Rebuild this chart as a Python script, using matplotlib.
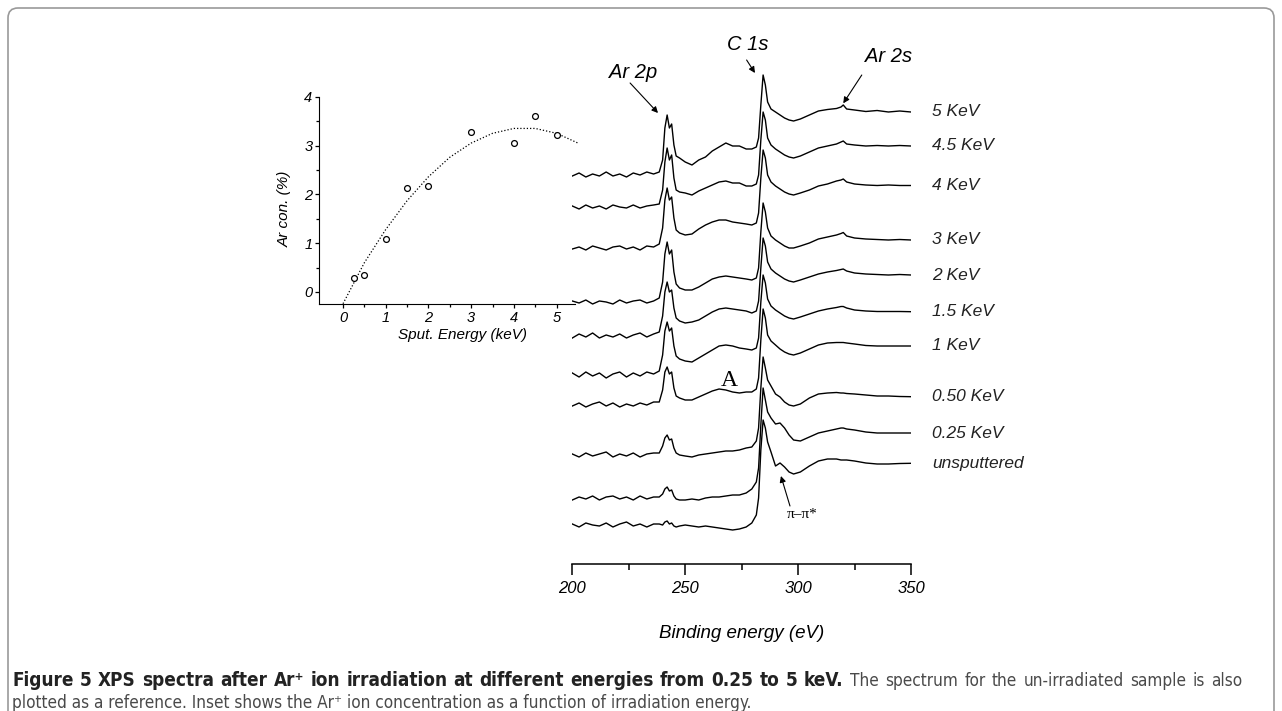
import matplotlib
matplotlib.use("Agg")
import numpy as np
import matplotlib.pyplot as plt
from matplotlib import font_manager
from matplotlib.patches import FancyBboxPatch
from matplotlib.transforms import IdentityTransform

# ---- data ---------------------------------------------------------------
# binding energy grid (eV) shared by all spectra
energy = [200, 203, 206, 209, 212, 215, 218, 221, 224, 227, 230, 233, 236,
          238.5, 240, 241, 242, 243, 244, 245, 246, 247.5,
          250, 253, 256, 259, 262, 265, 268, 271, 274, 277,
          279.5, 281.5, 282.5, 283.5, 284.5, 285.5, 286.5, 288,
          290, 292, 294, 296, 298, 301, 305, 309, 313, 317,
          319, 320, 321.5, 325, 330, 335, 340, 345, 350]

# intensities (a.u.) relative to each spectrum's low-energy baseline
spec_5 = [-1, 2, -2, 1, -1, 3, -1, 1, -2, 2, 0, 3, 1,
          3, 15, 47, 60, 47, 51, 30, 19, 17,
          13, 10, 15, 18, 24, 28, 32, 29, 29, 26,
          26, 28, 37, 70, 100, 90, 73, 66,
          63, 60, 57, 55, 54, 56, 60, 64, 65.5, 66.5,
          68, 70, 66, 65, 63.5, 64.5, 63, 64, 63]
spec_45 = [1, -2, 2, -1, 1, -2, 2, 0, -1, 2, -1, 1, 2,
           3, 17, 45, 59, 47, 52, 29, 17, 15,
           14, 12, 16, 19, 22, 25, 26, 24, 24, 21,
           21, 23, 32, 67, 95, 87, 69, 62,
           58, 55, 52, 50, 49, 51, 55, 59, 61, 63,
           65, 66, 63, 62, 61, 61.5, 61, 61.5, 61]
spec_4 = [-1, 1, -2, 2, 0, -2, 1, 2, -1, 1, -2, 2, 1,
          4, 20, 48, 60, 48, 51, 30, 18, 15,
          13, 14, 19, 23, 26, 28, 28, 26, 25, 24,
          23, 25, 35, 70, 98, 90, 73, 66,
          62, 59, 56, 54, 53, 55, 58, 62, 64, 67,
          68, 69, 66, 64, 63, 62.5, 63, 62.5, 62.5]
spec_3 = [1, -1, 2, -2, 1, 0, -2, 2, -1, 1, 2, -1, 1,
          4, 20, 48, 60, 48, 52, 30, 18, 14,
          12, 12, 15, 19, 23, 25, 26, 25, 24, 23,
          22, 24, 34, 70, 99, 90, 74, 66,
          62, 59, 56, 54, 54, 56, 59, 63, 65, 67,
          68.5, 69.5, 66, 64, 63, 62.5, 62, 62.5, 62]
spec_2 = [-2, 2, -1, 3, -2, 1, -1, 2, -2, 1, 3, -1, 2,
          4, 20, 44, 54, 44, 46, 28, 18, 15,
          13, 14, 16, 20, 24, 27, 28, 27, 26, 25,
          23, 25, 35, 68, 98, 90, 74, 67,
          63, 60, 57, 55, 54, 56, 59, 62, 64, 65.5,
          66.5, 67, 65, 63, 62, 61.5, 61, 61.5, 61]
spec_15 = [2, -2, 3, -1, 2, -3, 1, 3, -2, 2, -1, 3, 1,
           4, 20, 44, 53, 44, 47, 29, 19, 16,
           14, 13, 17, 21, 25, 29, 30, 29, 27, 26,
           25, 27, 37, 73, 100, 92, 76, 69,
           65, 62, 59, 57, 56, 58, 61, 64, 66, 67.5,
           68.5, 68.5, 67, 65, 64, 63.5, 63.5, 63.5, 63.3]
spec_1 = [-1, 2, -2, 1, 3, -1, 2, -2, 1, -1, 2, 0, 3,
          3, 15, 33, 38, 31, 33, 17, 9, 7,
          5, 5, 8, 11, 14, 16, 15, 13, 12, 13,
          13, 16, 27, 65, 96, 87, 70, 64,
          60, 56, 53, 51, 50, 52, 56, 60, 62, 62.5,
          62.5, 62.5, 62, 61, 59.5, 59, 59, 59, 59]
spec_050 = [1, -2, 2, -1, 1, 3, -2, 1, -1, 2, -2, 1, 2,
            2, 9, 17, 20, 15, 16, 7, 2, 0,
            -1, -2, 0, 1, 2, 3, 4, 4, 5, 7,
            8, 14, 27, 67, 98, 87, 75, 69,
            61, 58, 53, 50, 49, 51, 57, 61, 62, 62.5,
            62, 62, 61.5, 61, 60, 59, 59, 58.5, 58.3]
spec_025 = [-2, 1, -1, 2, -2, 1, 2, -1, 1, -2, 2, -1, 1,
            1, 4, 9, 11, 7, 8, 2, -1, -2,
            -2, -1, -2, 0, 1, 1, 2, 3, 3, 5,
            9, 16, 30, 73, 110, 98, 86, 80,
            74, 75, 70, 63, 58, 57, 61, 65, 67, 69,
            70, 70, 69, 68, 66, 65, 65, 65, 65]
spec_un = [1, -2, 2, 0, -1, 2, -2, 1, 3, -1, 1, -2, 1,
           1, 0, 3, 4, 1, 2, -1, -2, -1,
           0, -1, -2, -1, -2, -3, -4, -5, -4, -2,
           2, 10, 27, 75, 105, 97, 83, 73,
           59, 62, 58, 53, 51, 53, 59, 64, 66, 66,
           65, 65, 65, 64, 62, 61, 61, 61.5, 61.7]

spectra = [spec_5, spec_45, spec_4, spec_3, spec_2, spec_15, spec_1,
           spec_050, spec_025, spec_un]
offsets = [389, 357, 316, 262, 228, 189, 159, 109, 66, 39]
labels = ["5 KeV", "4.5 KeV", "4 KeV", "3 KeV", "2 KeV", "1.5 KeV", "1 KeV",
          "0.50 KeV", "0.25 KeV", "unsputtered"]

# inset: Ar concentration vs sputtering energy
sput_energy = [0.25, 0.5, 1, 1.5, 2, 3, 4, 4.5, 5]
ar_conc = [0.28, 0.35, 1.08, 2.14, 2.18, 3.28, 3.06, 3.60, 3.21]
fit_x = [0, 0.5, 1, 1.5, 2, 2.5, 3, 3.5, 4, 4.5, 5, 5.5]
fit_y = [-0.24, 0.6, 1.28, 1.87, 2.36, 2.76, 3.05, 3.25, 3.35, 3.35, 3.25, 3.05]

# ---- style --------------------------------------------------------------
plt.rcParams["font.family"] = ["Liberation Sans", "DejaVu Sans"]
plt.rcParams["font.style"] = "italic"
names = {f.name for f in font_manager.fontManager.ttflist}
cap_font = "Liberation Sans Narrow" if "Liberation Sans Narrow" in names else "DejaVu Sans"

W, H = 1282, 711
fig = plt.figure(figsize=(W / 100, H / 100), dpi=100)


def px(x0, y0, x1, y1):
    return [x0 / W, 1 - y1 / H, (x1 - x0) / W, (y1 - y0) / H]


# ---- main spectra -------------------------------------------------------
ax = fig.add_axes(px(572.3, 40, 911, 564))
for spec, off, lab in zip(spectra, offsets, labels):
    ax.plot(energy, np.array(spec) + off, color="k", lw=1.0)
    ax.text(359.3, off + spec[-1], lab, fontsize=12.5, va="center", ha="left",
            color="#222222", clip_on=False)

ax.set_xlim(200, 350)
ax.set_ylim(0, 524)
for s in ["left", "right", "top"]:
    ax.spines[s].set_visible(False)
ax.spines["bottom"].set_linewidth(1.1)
ax.set_yticks([])
ax.set_xticks([200, 250, 300, 350])
ax.set_xticks([225, 275, 325], minor=True)
ax.tick_params(axis="x", which="major", direction="out", length=8, width=1.1,
               labelsize=12, pad=4)
ax.tick_params(axis="x", which="minor", direction="out", length=4, width=1.1)
ax.set_xlabel("Binding energy (eV)", fontsize=13.5)
ax.xaxis.label.set_va("center")
ax.xaxis.set_label_coords(0.5, (564 - 634) / 524)
ax.patch.set_alpha(0)

arrow = dict(arrowstyle="-|>", color="k", lw=0.8, mutation_scale=9,
             shrinkA=0, shrinkB=0)
ax.annotate("", xy=(237.95, 451), xytext=(225.6, 481), arrowprops=arrow,
            annotation_clip=False)
ax.text(226.9, 492, "Ar 2p", fontsize=14.5, ha="center", va="center", clip_on=False)
ax.annotate("", xy=(280.9, 491), xytext=(277.2, 504), arrowprops=arrow,
            annotation_clip=False)
ax.text(277.8, 520, "C 1s", fontsize=14.5, ha="center", va="center", clip_on=False)
ax.annotate("", xy=(320.0, 460.7), xytext=(328.2, 489), arrowprops=arrow,
            annotation_clip=False)
ax.text(340.2, 507.5, "Ar 2s", fontsize=14.5, ha="center", va="center", clip_on=False)
ax.annotate("", xy=(292.4, 88), xytext=(296.4, 58), arrowprops=arrow,
            annotation_clip=False)
ax.text(301.6, 49, "π–π*", fontsize=11, ha="center", va="center",
        family="Liberation Serif", style="normal")
ax.text(269.3, 183, "A", fontsize=17, ha="center", va="center",
        family="Liberation Serif", style="normal")

# ---- inset --------------------------------------------------------------
axi = fig.add_axes(px(319.3, 96.7, 575, 304))
axi.plot(fit_x, fit_y, color="k", lw=0.9, ls=(0, (1, 1.6)), clip_on=False)
axi.plot(sput_energy, ar_conc, "o", mfc="white", mec="k", ms=4.2, mew=0.9,
         clip_on=False)
axi.set_xlim(-0.555, 5.43)
axi.set_ylim(-0.246, 4.0)
for s in ["right", "top"]:
    axi.spines[s].set_visible(False)
axi.set_xticks(range(0, 6))
axi.set_xticks(np.arange(0.5, 5.5, 1.0), minor=True)
axi.set_yticks(range(0, 5))
axi.set_yticks(np.arange(0.5, 4.0, 1.0), minor=True)
axi.tick_params(which="major", direction="out", length=3, width=0.9,
                labelsize=10.5, pad=2)
axi.tick_params(which="minor", direction="out", length=2, width=0.9)
axi.set_xlabel("Sput. Energy (keV)", fontsize=11)
axi.set_ylabel("Ar con. (%)", fontsize=11)
axi.xaxis.set_label_coords((462 - 319.3) / 255.7, (304 - 335) / 207.3)
axi.xaxis.label.set_va("center")
axi.yaxis.set_label_coords((285 - 319.3) / 255.7, (304 - 208.5) / 207.3)
axi.yaxis.label.set_va("center")
axi.patch.set_alpha(0)

# ---- frame and caption --------------------------------------------------
frame = FancyBboxPatch((8, -30), 1266, H - 8 + 30,
                       boxstyle="round,pad=0,rounding_size=10",
                       transform=IdentityTransform(), fill=False,
                       ec="#9a9a9a", lw=1.2)
fig.add_artist(frame)

bold1 = "Figure 5 XPS spectra after Ar\u207a ion irradiation at different energies from 0.25 to 5 keV."
reg1 = "The spectrum for the un-irradiated sample is also"
reg2 = "plotted as a reference. Inset shows the Ar\u207a ion concentration as a function of irradiation energy."
cap = dict(family=[cap_font, "DejaVu Sans"], style="normal", stretch="condensed",
           va="center")
r = fig.canvas.get_renderer()

# last line sets the font size (ends near x=750)
t3 = fig.text(12 / W, 1 - 703 / H, reg2, fontsize=11, color="#4a4a4a", **cap)
size = 11.0
for _ in range(3):
    t3.set_fontsize(size)
    size *= (750 - 12) / t3.get_window_extent(r).width
t3.set_fontsize(size)

# first line: slightly larger bold heading, then justified to x=1242
words = [(w, "bold", "#222222", size * 1.1) for w in bold1.split(" ")] + \
        [(w, "normal", "#4a4a4a", size) for w in reg1.split(" ")]
tw = [fig.text(0, 1 - 681 / H, w, fontsize=fs, fontweight=fw, color=c, **cap)
      for w, fw, c, fs in words]
widths = [t.get_window_extent(r).width for t in tw]
gap = (1242 - 12 - sum(widths)) / (len(tw) - 1)
x = 12.0
for t, wd in zip(tw, widths):
    t.set_x(x / W)
    x += wd + gap

fig.savefig("out.png", dpi=100)
